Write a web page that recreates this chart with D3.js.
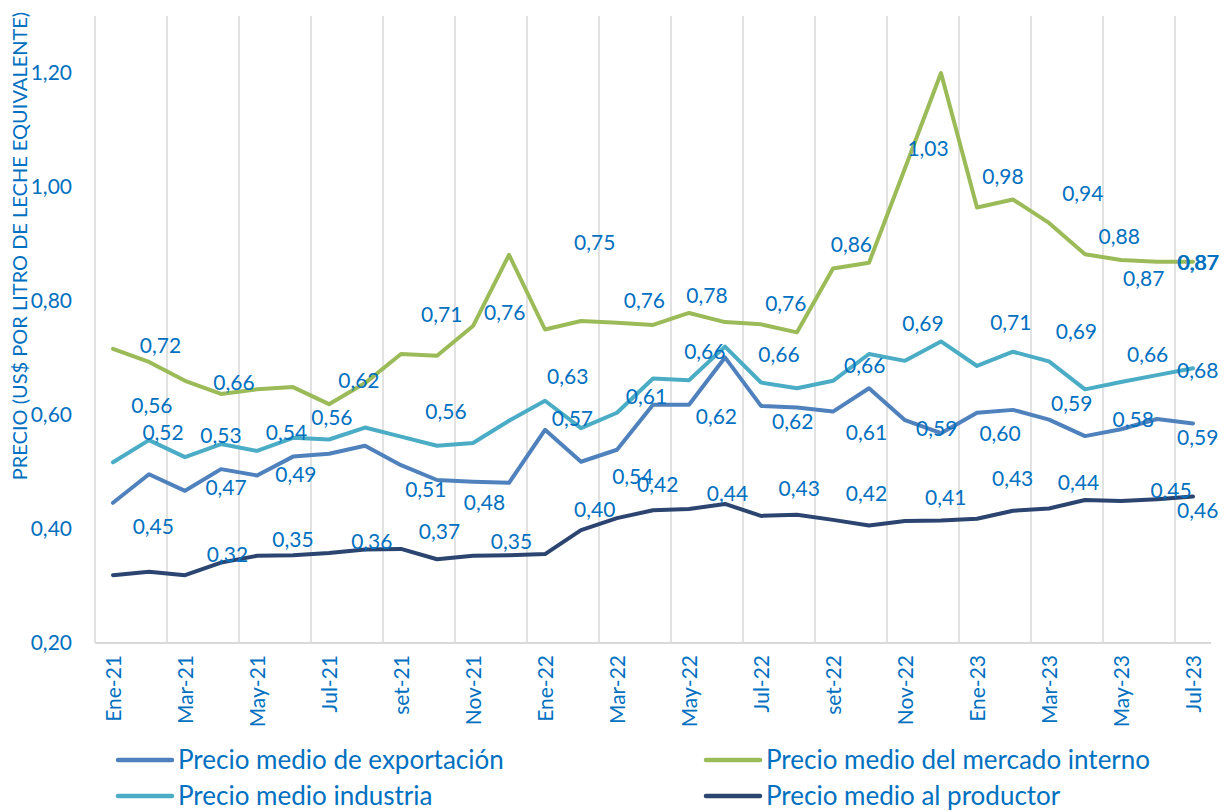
<!DOCTYPE html>
<html>
<head>
<meta charset="utf-8">
<script src="https://cdn.jsdelivr.net/npm/d3@7"></script>
<style>
	body { margin: 0; background: #fff; }
	text { font-family: Lato, "Open Sans", sans-serif; fill: #0070C0; }
</style>
</head>
<body>
<div id="chart"></div>
<script>

// months (every other one is labelled on the axis)
let months = ["Ene-21","Feb-21","Mar-21","Abr-21","May-21","Jun-21","Jul-21","Ago-21","set-21","Oct-21","Nov-21","Dic-21",
	"Ene-22","Feb-22","Mar-22","Abr-22","May-22","Jun-22","Jul-22","Ago-22","set-22","Oct-22","Nov-22","Dic-22",
	"Ene-23","Feb-23","Mar-23","Abr-23","May-23","Jun-23","Jul-23"];

let yTicks = [0.2, 0.4, 0.6, 0.8, 1.0, 1.2];

// series values (US$ por litro)
let exportacion = [0.446,0.496,0.467,0.505,0.494,0.527,0.532,0.546,0.512,0.486,0.483,0.481,0.574,0.518,0.539,0.618,
	0.618,0.701,0.616,0.613,0.606,0.647,0.591,0.568,0.604,0.609,0.592,0.563,0.575,0.593,0.585];
let mercado = [0.716,0.693,0.660,0.637,0.645,0.649,0.619,0.656,0.707,0.704,0.756,0.881,0.750,0.765,0.762,0.758,
	0.779,0.763,0.759,0.745,0.857,0.867,1.033,1.200,0.964,0.978,0.937,0.882,0.872,0.869,0.869];
let industria = [0.517,0.556,0.526,0.549,0.537,0.560,0.557,0.578,0.562,0.546,0.551,0.590,0.625,0.577,0.604,0.664,
	0.661,0.720,0.657,0.647,0.660,0.707,0.695,0.729,0.686,0.711,0.694,0.645,0.658,0.670,0.682];
let productor = [0.319,0.325,0.319,0.341,0.353,0.354,0.358,0.364,0.365,0.347,0.353,0.354,0.356,0.398,0.419,0.433,
	0.435,0.444,0.423,0.425,0.416,0.406,0.414,0.415,0.418,0.432,0.436,0.451,0.449,0.452,0.457];

// data labels: [text, month index, value] (as they sit in the original chart)
let labelsExportacion = [["0,45",1.12,0.405],["0,47",3.14,0.473],["0,49",5.08,0.496],["0,51",8.69,0.470],["0,48",10.32,0.447],
	["0,54",14.44,0.493],["0,61",14.82,0.632],["0,62",16.76,0.598],["0,62",18.88,0.589],["0,61",20.93,0.570],["0,59",22.88,0.577],
	["0,60",24.64,0.567],["0,59",26.63,0.621],["0,58",28.34,0.592],["0,59",30.13,0.560]];
let labelsMercado = [["0,72",1.32,0.722],["0,66",3.36,0.657],["0,62",6.83,0.660],["0,71",9.13,0.777],["0,76",10.88,0.780],
	["0,75",13.38,0.902],["0,76",14.76,0.801],["0,78",16.5,0.809],["0,76",18.69,0.796],["0,86",20.51,0.900],["1,03",22.64,1.067],
	["0,98",24.72,1.019],["0,94",26.94,0.988],["0,88",27.95,0.914],["0,87",28.63,0.839],["0,87",30.13,0.867],["0,87",30.16,0.868]];
let labelsIndustria = [["0,56",1.08,0.616],["0,52",1.39,0.569],["0,53",3.0,0.564],["0,54",4.82,0.569],["0,56",6.08,0.595],
	["0,56",9.25,0.606],["0,63",12.63,0.668],["0,57",12.76,0.594],["0,66",16.44,0.712],["0,66",18.5,0.707],["0,66",20.88,0.687],
	["0,69",22.5,0.760],["0,71",24.94,0.762],["0,69",26.76,0.746],["0,66",28.74,0.706],["0,68",30.13,0.678]];
let labelsProductor = [["0,32",3.18,0.355],["0,35",5.0,0.382],["0,36",7.19,0.378],["0,37",9.07,0.395],["0,35",11.07,0.378],
	["0,40",13.38,0.435],["0,42",15.13,0.478],["0,44",17.07,0.462],["0,43",19.06,0.472],["0,42",20.93,0.462],["0,41",23.13,0.455],
	["0,43",24.99,0.488],["0,44",26.82,0.481],["0,45",29.39,0.467],["0,46",30.13,0.432]];

let seriesConfig = [
	{name: "Precio medio de exportación", values: exportacion, labels: labelsExportacion, color: "#4F81BD"},
	{name: "Precio medio del mercado interno", values: mercado, labels: labelsMercado, color: "#9BBB59"},
	{name: "Precio medio industria", values: industria, labels: labelsIndustria, color: "#4BACC6"},
	{name: "Precio medio al productor", values: productor, labels: labelsProductor, color: "#2B4570"}
];


class LineChart {

	constructor(parentElement, config) {
		this.parentElement = parentElement;
		this.config = config;
		this.initVis();
	}

	initVis() {
		let vis = this;

		vis.margin = {top: 16, right: 19, bottom: 168, left: 95};
		vis.width = 1230 - vis.margin.left - vis.margin.right;
		vis.height = 811 - vis.margin.top - vis.margin.bottom;

		vis.root = d3.select("#" + vis.parentElement).append("svg")
			.attr("width", 1230)
			.attr("height", 811);

		vis.svg = vis.root.append("g")
			.attr("transform", "translate(" + vis.margin.left + "," + vis.margin.top + ")");

		// Scales
		vis.x = d3.scaleBand()
			.domain(d3.range(months.length))
			.range([0, vis.width]);

		// continuous position for points and labels
		vis.xi = d3.scaleLinear()
			.domain([0, months.length - 1])
			.range([vis.x(0) + vis.x.bandwidth() / 2, vis.x(months.length - 1) + vis.x.bandwidth() / 2]);

		vis.y = d3.scaleLinear()
			.domain([0.2, 1.3])
			.range([vis.height, 0]);

		vis.fmt = v => d3.format(".2f")(v).replace(".", ",");

		vis.wrangleData();
	}

	wrangleData() {
		let vis = this;

		vis.displayData = vis.config.map(s => ({
			name: s.name,
			color: s.color,
			points: s.values.map((v, i) => ({i: i, v: v})),
			labels: s.labels
		}));

		vis.updateVis();
	}

	updateVis() {
		let vis = this;

		// vertical gridlines every two months
		let gridIdx = d3.range(0, months.length, 2);
		vis.svg.append("g").selectAll("line")
			.data(gridIdx)
			.enter().append("line")
			.attr("x1", d => vis.x(d))
			.attr("x2", d => vis.x(d))
			.attr("y1", 0)
			.attr("y2", vis.height)
			.attr("stroke", "#d9d9d9")
			.attr("stroke-width", 1.5);

		// x axis line
		vis.svg.append("line")
			.attr("x1", 0)
			.attr("x2", vis.width)
			.attr("y1", vis.height)
			.attr("y2", vis.height)
			.attr("stroke", "#d9d9d9")
			.attr("stroke-width", 2);

		// y axis labels
		let yAxis = d3.axisLeft(vis.y)
			.tickValues(yTicks)
			.tickFormat(vis.fmt)
			.tickSize(0)
			.tickPadding(23);

		vis.svg.append("g")
			.attr("class", "y-axis")
			.call(yAxis)
			.call(g => g.select(".domain").remove())
			.selectAll("text")
			.attr("font-size", "21px")
			.attr("font-family", "Lato")
			.attr("fill", "#0070C0");

		// x axis labels
		vis.svg.append("g").selectAll(".x-label")
			.data(gridIdx)
			.enter().append("text")
			.attr("class", "x-label")
			.attr("transform", d => "translate(" + vis.xi(d) + "," + (vis.height + 12) + ") rotate(-90)")
			.attr("text-anchor", "end")
			.attr("dy", "0.36em")
			.attr("font-size", "21px")
			.text(d => months[d]);

		// y title
		vis.root.append("text")
			.attr("transform", "translate(20," + 246 + ") rotate(-90)")
			.attr("text-anchor", "middle")
			.attr("dy", "0.36em")
			.attr("font-size", "20px")
			.text("PRECIO (US$ POR LITRO DE LECHE EQUIVALENTE)");

		// lines
		let line = d3.line()
			.x(d => vis.xi(d.i))
			.y(d => vis.y(d.v));

		vis.svg.append("g").selectAll(".series")
			.data(vis.displayData)
			.enter().append("path")
			.attr("class", "series")
			.attr("d", d => line(d.points))
			.attr("fill", "none")
			.attr("stroke", d => d.color)
			.attr("stroke-width", 4)
			.attr("stroke-linejoin", "round")
			.attr("stroke-linecap", "round");

		// data labels
		vis.svg.append("g").selectAll(".lab-group")
			.data(vis.displayData)
			.enter().append("g")
			.attr("class", "lab-group")
			.selectAll("text")
			.data(d => d.labels)
			.enter().append("text")
			.attr("x", d => vis.xi(d[1]))
			.attr("y", d => vis.y(d[2]))
			.attr("text-anchor", "middle")
			.attr("dy", "0.36em")
			.attr("font-size", "21px")
			.text(d => d[0]);

		// legend
		let legend = vis.root.append("g").selectAll(".legend")
			.data(vis.displayData)
			.enter().append("g")
			.attr("class", "legend")
			.attr("transform", (d, k) => "translate(" + (k % 2 === 0 ? 118 : 706) + "," + (k < 2 ? 760 : 796) + ")");

		legend.append("line")
			.attr("x1", 0)
			.attr("x2", 54)
			.attr("stroke", d => d.color)
			.attr("stroke-width", 4.5)
			.attr("stroke-linecap", "round");

		legend.append("text")
			.attr("x", 60)
			.attr("dy", "0.36em")
			.attr("font-size", "26px")
			.text(d => d.name);
	}
}

let chart = new LineChart("chart", seriesConfig);

</script>
</body>
</html>
